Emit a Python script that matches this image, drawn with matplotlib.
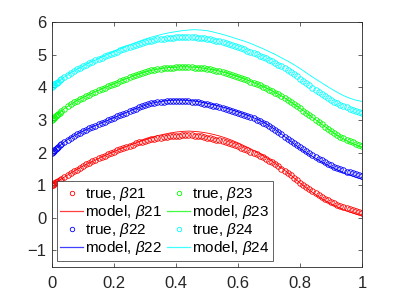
import numpy as np
import matplotlib
matplotlib.use("Agg")
import matplotlib.pyplot as plt
from matplotlib.lines import Line2D

# x grids
x_true = np.concatenate([[0.0, 0.002, 0.005, 0.008, 0.012, 0.016, 0.02, 0.025],
                         np.round(np.arange(0.03, 1.0001, 0.01), 2)])
x_model = np.concatenate([[0.0, 0.01], np.round(np.arange(0.02, 1.0001, 0.02), 2)])

true_b21 = [1.00, 1.02, 1.04, 1.07, 1.09, 1.11, 1.13, 1.16,
            1.19, 1.25, 1.31, 1.37, 1.43, 1.48, 1.53, 1.59, 1.64, 1.68,
            1.73, 1.77, 1.82, 1.86, 1.91, 1.95, 1.99, 2.03, 2.07, 2.11,
            2.14, 2.18, 2.21, 2.24, 2.28, 2.31, 2.33, 2.36, 2.38, 2.41,
            2.43, 2.45, 2.46, 2.47, 2.49, 2.50, 2.51, 2.51, 2.52, 2.53,
            2.53, 2.53, 2.53, 2.52, 2.51, 2.50, 2.48, 2.46, 2.44, 2.42,
            2.40, 2.38, 2.35, 2.32, 2.29, 2.26, 2.22, 2.19, 2.15, 2.11,
            2.07, 2.03, 1.99, 1.95, 1.90, 1.85, 1.80, 1.75, 1.70, 1.64,
            1.58, 1.51, 1.45, 1.38, 1.31, 1.22, 1.15, 1.08, 1.01, 0.94,
            0.88, 0.82, 0.75, 0.70, 0.64, 0.59, 0.54, 0.48, 0.44, 0.39,
            0.35, 0.32, 0.29, 0.26, 0.23, 0.20, 0.18, 0.15]
true_b22 = [2.00, 2.03, 2.06, 2.09, 2.12, 2.15, 2.18, 2.22,
            2.26, 2.33, 2.40, 2.46, 2.51, 2.56, 2.61, 2.66, 2.70, 2.74,
            2.79, 2.83, 2.87, 2.91, 2.95, 2.99, 3.03, 3.07, 3.11, 3.15,
            3.19, 3.23, 3.27, 3.31, 3.35, 3.39, 3.42, 3.45, 3.48, 3.51,
            3.53, 3.54, 3.55, 3.56, 3.57, 3.58, 3.58, 3.58, 3.58, 3.58,
            3.58, 3.57, 3.56, 3.55, 3.54, 3.52, 3.50, 3.48, 3.46, 3.44,
            3.42, 3.39, 3.37, 3.34, 3.31, 3.28, 3.25, 3.22, 3.19, 3.16,
            3.12, 3.09, 3.05, 3.01, 2.97, 2.92, 2.87, 2.81, 2.75, 2.69,
            2.63, 2.56, 2.49, 2.42, 2.36, 2.29, 2.23, 2.16, 2.10, 2.04,
            1.98, 1.92, 1.87, 1.81, 1.76, 1.71, 1.66, 1.62, 1.57, 1.53,
            1.49, 1.46, 1.42, 1.39, 1.36, 1.33, 1.30, 1.27]
true_b23 = [3.00, 3.03, 3.06, 3.09, 3.13, 3.16, 3.19, 3.23,
            3.27, 3.35, 3.42, 3.48, 3.54, 3.59, 3.64, 3.69, 3.74, 3.78,
            3.83, 3.87, 3.91, 3.95, 3.99, 4.03, 4.07, 4.11, 4.15, 4.19,
            4.23, 4.27, 4.31, 4.34, 4.38, 4.41, 4.44, 4.47, 4.50, 4.52,
            4.54, 4.56, 4.57, 4.58, 4.59, 4.60, 4.61, 4.62, 4.62, 4.62,
            4.62, 4.62, 4.62, 4.61, 4.60, 4.59, 4.58, 4.56, 4.55, 4.53,
            4.51, 4.49, 4.46, 4.44, 4.41, 4.38, 4.35, 4.32, 4.29, 4.25,
            4.22, 4.18, 4.14, 4.10, 4.06, 4.02, 3.98, 3.93, 3.89, 3.84,
            3.79, 3.74, 3.68, 3.62, 3.56, 3.49, 3.43, 3.36, 3.29, 3.22,
            3.15, 3.08, 3.01, 2.94, 2.87, 2.80, 2.73, 2.67, 2.60, 2.54,
            2.49, 2.44, 2.39, 2.35, 2.31, 2.27, 2.24, 2.21]
true_b24 = [4.00, 4.03, 4.06, 4.09, 4.12, 4.15, 4.18, 4.22,
            4.25, 4.32, 4.39, 4.45, 4.50, 4.55, 4.60, 4.65, 4.70, 4.75,
            4.79, 4.83, 4.87, 4.91, 4.95, 4.99, 5.03, 5.07, 5.10, 5.14,
            5.17, 5.20, 5.24, 5.27, 5.30, 5.33, 5.36, 5.38, 5.41, 5.43,
            5.45, 5.47, 5.48, 5.50, 5.51, 5.52, 5.53, 5.54, 5.54, 5.55,
            5.55, 5.55, 5.55, 5.54, 5.53, 5.52, 5.51, 5.49, 5.47, 5.45,
            5.43, 5.41, 5.38, 5.36, 5.33, 5.30, 5.27, 5.24, 5.21, 5.17,
            5.13, 5.09, 5.05, 5.01, 4.97, 4.93, 4.89, 4.84, 4.80, 4.75,
            4.70, 4.65, 4.59, 4.53, 4.47, 4.41, 4.34, 4.27, 4.20, 4.13,
            4.06, 3.99, 3.92, 3.86, 3.79, 3.73, 3.67, 3.62, 3.56, 3.51,
            3.47, 3.43, 3.39, 3.35, 3.31, 3.28, 3.25, 3.22]

model_b21 = [1.00, 1.09, 1.13, 1.25, 1.37, 1.48, 1.59, 1.68, 1.77, 1.86,
             1.95, 2.03, 2.11, 2.19, 2.26, 2.33, 2.40, 2.46, 2.52, 2.56,
             2.60, 2.63, 2.65, 2.66, 2.65, 2.63, 2.60, 2.56, 2.51, 2.45,
             2.38, 2.30, 2.21, 2.12, 2.02, 1.92, 1.80, 1.67, 1.53, 1.39,
             1.23, 1.07, 0.92, 0.78, 0.65, 0.53, 0.42, 0.33, 0.25, 0.18,
             0.12, 0.07]
model_b22 = [2.00, 2.10, 2.18, 2.33, 2.46, 2.56, 2.66, 2.74, 2.83, 2.91,
             2.99, 3.07, 3.15, 3.23, 3.31, 3.38, 3.45, 3.51, 3.55, 3.58,
             3.60, 3.61, 3.61, 3.60, 3.58, 3.55, 3.51, 3.47, 3.42, 3.37,
             3.31, 3.25, 3.18, 3.11, 3.03, 2.94, 2.83, 2.71, 2.57, 2.42,
             2.27, 2.13, 2.00, 1.88, 1.77, 1.66, 1.56, 1.47, 1.38, 1.31,
             1.24, 1.18]
model_b23 = [3.00, 3.11, 3.19, 3.35, 3.48, 3.59, 3.69, 3.78, 3.87, 3.95,
             4.03, 4.11, 4.19, 4.27, 4.34, 4.41, 4.47, 4.52, 4.56, 4.59,
             4.61, 4.62, 4.63, 4.63, 4.62, 4.60, 4.57, 4.54, 4.50, 4.45,
             4.39, 4.33, 4.26, 4.19, 4.11, 4.03, 3.94, 3.84, 3.74, 3.62,
             3.49, 3.36, 3.22, 3.08, 2.94, 2.80, 2.66, 2.53, 2.42, 2.32,
             2.24, 2.17]
model_b24 = [4.00, 4.10, 4.18, 4.32, 4.45, 4.55, 4.65, 4.76, 4.84, 4.93,
             5.02, 5.11, 5.19, 5.27, 5.34, 5.41, 5.48, 5.54, 5.59, 5.64,
             5.68, 5.71, 5.74, 5.76, 5.77, 5.76, 5.74, 5.70, 5.65, 5.60,
             5.54, 5.48, 5.42, 5.35, 5.27, 5.19, 5.10, 5.01, 4.91, 4.81,
             4.70, 4.58, 4.45, 4.32, 4.20, 4.08, 3.96, 3.85, 3.75, 3.67,
             3.61, 3.57]

names = ["21", "22", "23", "24"]
colors = ["#ff0000", "#0000ff", "#00ff00", "#00ffff"]
trues = [true_b21, true_b22, true_b23, true_b24]
models = [model_b21, model_b22, model_b23, model_b24]

x_ticks = [0, 0.2, 0.4, 0.6, 0.8, 1]
x_ticklabels = ["0", "0.2", "0.4", "0.6", "0.8", "1"]
y_ticks = [-1, 0, 1, 2, 3, 4, 5, 6]

plt.rcParams['font.family'] = ['Liberation Sans', 'DejaVu Sans']
plt.rcParams['mathtext.fontset'] = 'custom'
plt.rcParams['mathtext.it'] = 'Liberation Sans:italic'
plt.rcParams['mathtext.rm'] = 'Liberation Sans'

fig = plt.figure(figsize=(4, 3), dpi=100)
ax = fig.add_axes([0.13, 0.111, 0.775, 0.815])

handles = []
labels = []
for nm, c, yt, ym in zip(names, colors, trues, models):
    ax.plot(x_true, yt, linestyle='none', marker='o', markersize=4.0,
            markerfacecolor='none', markeredgecolor=c, markeredgewidth=0.6)
    ax.plot(x_model, ym, color=c, linewidth=0.6)
    handles.append(Line2D([], [], linestyle='none', marker='o', markersize=3.2,
                          markerfacecolor='none', markeredgecolor=c,
                          markeredgewidth=0.6))
    handles.append(Line2D([], [], color=c, linewidth=0.9, alpha=0.75))
    labels += [r"true, $\beta$" + nm, r"model, $\beta$" + nm]

ax.set_xlim(0, 1)
ax.set_ylim(-1.5, 6)
ax.set_xticks(x_ticks)
ax.set_xticklabels(x_ticklabels)
ax.set_yticks(y_ticks)
ax.tick_params(direction='in', length=3, width=0.5, top=True, right=True,
               labelsize=12, labelcolor='#262626', color='#262626')
ax.tick_params(axis='x', pad=7)
ax.tick_params(axis='y', pad=4)
for s in ax.spines.values():
    s.set_linewidth(0.6)
    s.set_color('#262626')

leg = ax.legend(handles, labels, ncol=2, loc='lower left',
                bbox_to_anchor=(0.015, 0.024), borderaxespad=0,
                fontsize=11, handlelength=1.5, handletextpad=0.1,
                columnspacing=0.35, labelspacing=0.0, borderpad=0.25,
                fancybox=False, framealpha=1, edgecolor='#262626')
leg.get_frame().set_linewidth(0.5)

fig.savefig("out.png", dpi=100)
